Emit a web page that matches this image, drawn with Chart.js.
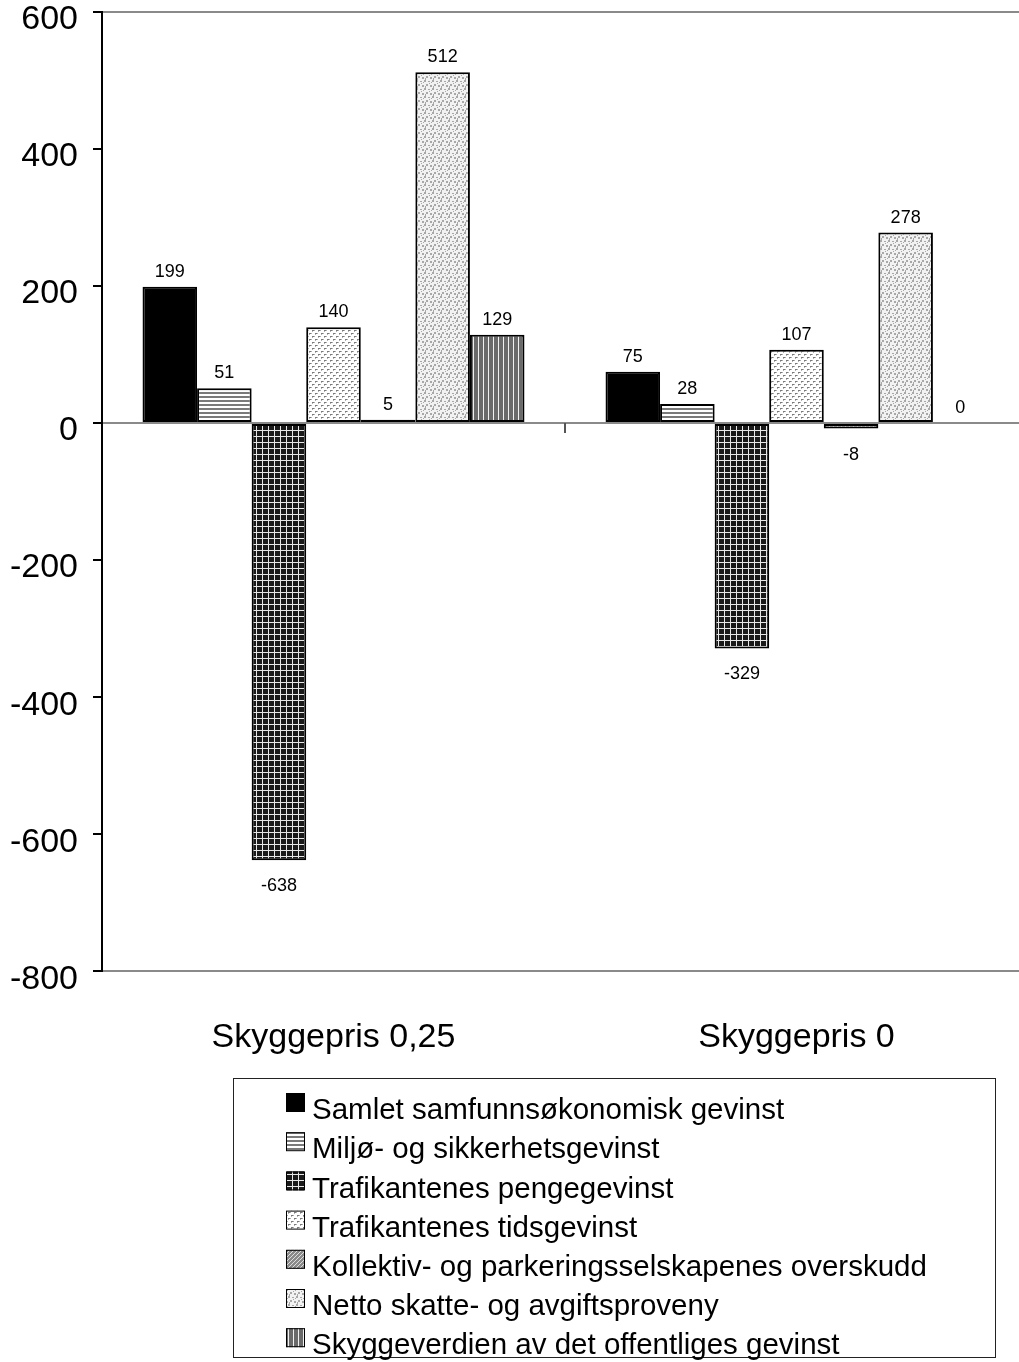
<!DOCTYPE html>
<html>
<head>
<meta charset="utf-8">
<script src="https://cdn.jsdelivr.net/npm/chart.js@4/dist/chart.umd.min.js"></script>
<style>
  html, body { margin:0; padding:0; background:#fff; overflow:hidden; width:1019px; height:1362px; }
  #wrap { position:absolute; left:0; top:0; width:1030px; height:1362px; }
</style>
</head>
<body>
<div id="wrap"><canvas id="c" width="1030" height="1362"></canvas></div>
<script>
// ---- data ----
const categories = ['Skyggepris 0,25', 'Skyggepris 0'];
const seriesNames = [
  'Samlet samfunnsøkonomisk gevinst',
  'Miljø- og sikkerhetsgevinst',
  'Trafikantenes pengegevinst',
  'Trafikantenes tidsgevinst',
  'Kollektiv- og parkeringsselskapenes overskudd',
  'Netto skatte- og avgiftsproveny',
  'Skyggeverdien av det offentliges gevinst'
];
const samlet    = [199, 75];
const miljo     = [51, 28];
const penge     = [-638, -329];
const tids      = [140, 107];
const kollektiv = [5, -8];
const netto     = [512, 278];
const skygge    = [129, 0];
const seriesValues = [samlet, miljo, penge, tids, kollektiv, netto, skygge];
const yMin = -800, yMax = 600, yStep = 200;

// ---- patterns ----
const canvas = document.getElementById('c');
const ctx = canvas.getContext('2d');
function pat(w, h, bg, draw) {
  const c = document.createElement('canvas');
  c.width = w; c.height = h;
  const g = c.getContext('2d');
  g.fillStyle = bg; g.fillRect(0, 0, w, h);
  draw(g);
  return ctx.createPattern(c, 'repeat');
}
const fills = [
  '#000000',
  pat(4, 4, '#ffffff', g => { g.fillStyle = '#7a7a7a'; g.fillRect(0, 0, 4, 2); }),
  pat(6, 6, '#1a1a1a', g => { g.fillStyle = '#e8e8e8'; g.fillRect(4, 0, 1, 6); g.fillRect(0, 4, 6, 1); }),
  pat(6, 6, '#ffffff', g => { g.fillStyle = '#7a7a7a'; g.fillRect(0, 0, 2, 1); g.fillRect(3, 3, 2, 1); g.fillStyle = '#b0b0b0'; g.fillRect(2,0,1,1); g.fillRect(5,3,1,1); g.fillRect(0,1,1,1); g.fillRect(3,4,1,1); }),
  pat(4, 4, '#8a8a8a', g => { g.fillStyle = '#dddddd'; for (let i = 0; i < 4; i++) g.fillRect(i, 3 - i, 1, 1); }),
  pat(8, 8, '#f2f2f2', g => { g.fillStyle = '#a8a8a8';
    g.fillRect(0,0,2,2); g.fillRect(4,1,2,1); g.fillRect(2,4,2,2); g.fillRect(6,5,2,2); g.fillRect(5,3,1,1); g.fillRect(1,6,1,2); g.fillRect(7,2,1,1); }),
  pat(5, 8, '#6a6a6a', g => { g.fillStyle = '#f0f0f0'; g.fillRect(3, 0, 1, 8); })
];

const FONT = "'Liberation Sans', Arial, Helvetica, sans-serif";
Chart.defaults.font.family = FONT;
Chart.defaults.color = '#000';

const datasets = seriesNames.map((name, i) => ({
  label: name,
  data: seriesValues[i],
  backgroundColor: fills[i],
  borderColor: '#000',
  borderWidth: 2,
  borderSkipped: false,
  categoryPercentage: 0.825,
  barPercentage: 1.0
}));

// value labels
const valueLabels = {
  id: 'valueLabels',
  afterDatasetsDraw(chart) {
    const c = chart.ctx;
    c.save();
    c.font = '18px ' + FONT;
    c.fillStyle = '#000';
    c.textAlign = 'center';
    c.textBaseline = 'middle';
    chart.data.datasets.forEach((ds, i) => {
      chart.getDatasetMeta(i).data.forEach((bar, j) => {
        const v = ds.data[j];
        const y = v < 0 ? bar.y + 26 : bar.y - 15;
        c.fillText(String(v), bar.x, y);
      });
    });
    c.restore();
  }
};

// decorations: category tick on zero line
const decor = {
  id: 'decor',
  afterDraw(chart) {
    const c = chart.ctx;
    const xs = chart.scales.x, ys = chart.scales.y;
    const y0 = ys.getPixelForValue(0);
    const xb = (xs.getPixelForValue(0) + xs.getPixelForValue(1)) / 2;
    c.save();
    c.strokeStyle = '#555';
    c.lineWidth = 2;
    c.beginPath(); c.moveTo(xb, y0); c.lineTo(xb, y0 + 10); c.stroke();
    c.restore();
  }
};

// boxed legend
const boxLegend = {
  id: 'boxLegend',
  afterDraw(chart) {
    const c = chart.ctx;
    c.save();
    c.strokeStyle = '#222';
    c.lineWidth = 1;
    c.strokeRect(233.5, 1078.5, 762, 279);
    c.font = '29.5px ' + FONT;
    c.textBaseline = 'middle';
    c.textAlign = 'left';
    chart.data.datasets.forEach((ds, i) => {
      const cy = 1111 + i * 39.2;
      c.fillStyle = ds.backgroundColor;
      c.fillRect(286, cy - 18, 19, 19);
      c.strokeStyle = '#000';
      c.lineWidth = 1;
      c.strokeRect(286.5, cy - 17.5, 18, 18);
      c.fillStyle = '#000';
      c.fillText(ds.label, 312, cy);
    });
    c.restore();
  }
};

new Chart(ctx, {
  type: 'bar',
  data: { labels: categories, datasets },
  options: {
    responsive: false,
    animation: false,
    layout: { padding: { top: 0, left: 0, right: 2, bottom: 258 } },
    plugins: { legend: { display: false }, tooltip: { enabled: false } },
    scales: {
      x: {
        grid: { display: false, drawTicks: false },
        border: { display: false },
        ticks: { font: { size: 34 }, color: '#000', padding: 46 }
      },
      y: {
        min: yMin, max: yMax,
        afterFit(scale) { scale.width = 102; scale.paddingTop = 12; scale.paddingBottom = 0; },
        ticks: { stepSize: yStep, font: { size: 34 }, color: '#000', padding: 15, labelOffset: 8 },
        border: { color: '#000', width: 2 },
        grid: {
          color: c => (c.tick && [yMax, 0, yMin].includes(c.tick.value)) ? '#8a8a8a' : 'rgba(0,0,0,0)',
          lineWidth: 2,
          tickColor: '#000',
          tickLength: 9,
          drawOnChartArea: true
        }
      }
    }
  },
  plugins: [valueLabels, decor, boxLegend]
});
</script>
</body>
</html>
